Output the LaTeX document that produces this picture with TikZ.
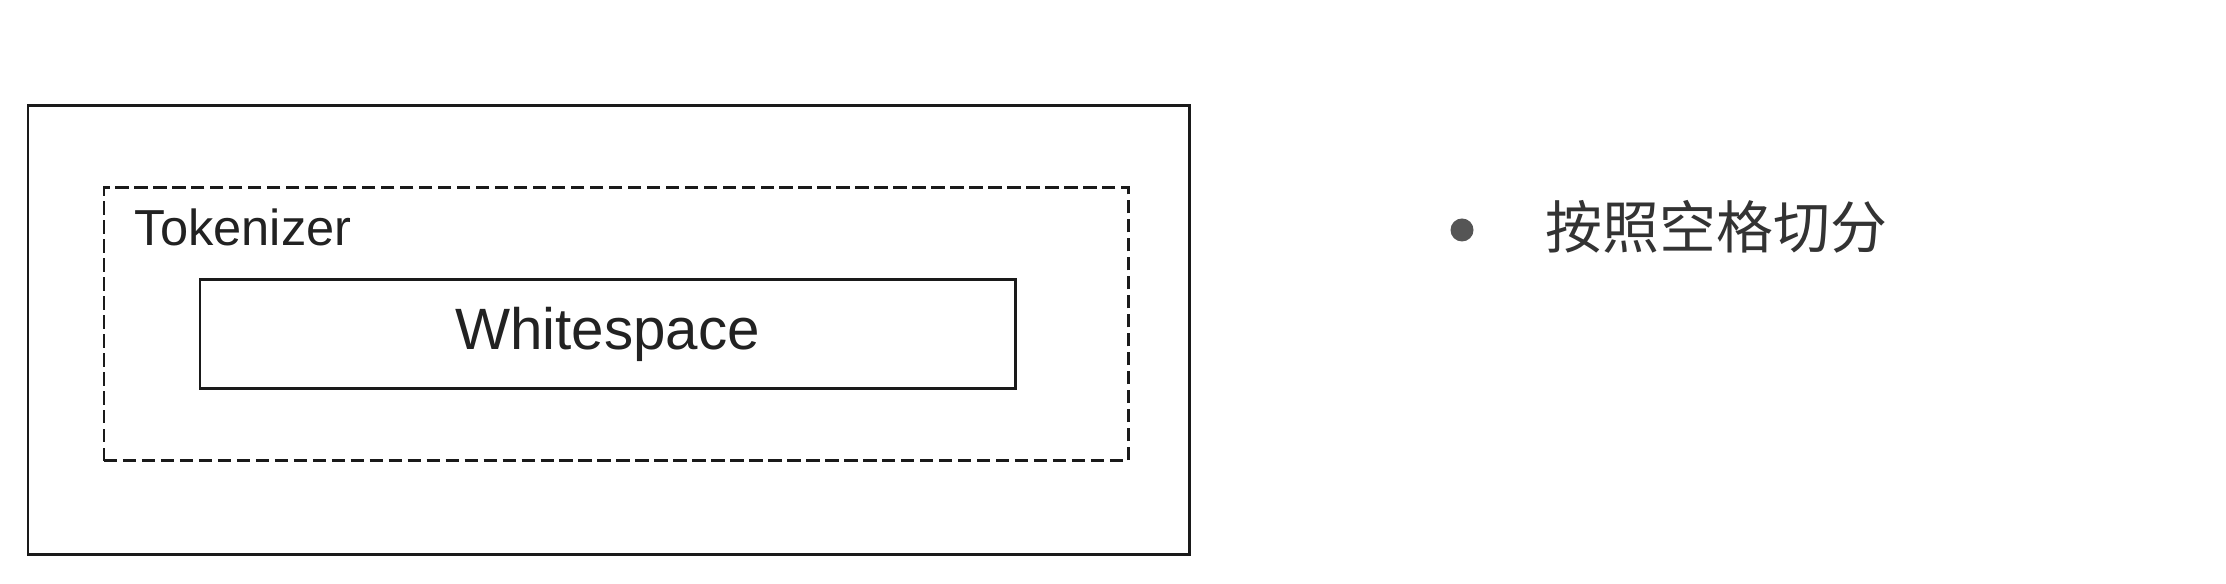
\documentclass[tikz,border=0pt]{standalone}
\usepackage{fontspec}
\setmainfont{Liberation Sans}
\newfontfamily\cjkfont{Noto Sans CJK SC}
\usetikzlibrary{positioning}
\definecolor{tokLine}{HTML}{1A1A1A}
\definecolor{tokText}{HTML}{222222}
\definecolor{tokNote}{HTML}{333333}
\definecolor{tokBullet}{HTML}{555555}
\tikzset{
  pipelineBox/.style={
    draw=tokLine,
    line width=0.85pt,
    minimum width=11.61cm,
    minimum height=4.49cm,
    inner sep=0pt
  },
  tokenizerBox/.style={
    draw=tokLine,
    line width=0.85pt,
    dash pattern=on 3.8pt off 1.6pt,
    minimum width=10.24cm,
    minimum height=2.73cm,
    inner sep=0pt
  },
  stageBox/.style={
    draw=tokLine,
    line width=0.85pt,
    minimum width=8.15cm,
    minimum height=1.09cm,
    inner sep=0pt,
    font=\fontsize{16.6}{18}\selectfont,
    text=tokText
  },
  boxLabel/.style={
    anchor=base west,
    inner sep=0pt,
    font=\fontsize{14.4}{16}\selectfont,
    text=tokText
  },
  noteText/.style={
    anchor=west,
    inner sep=0pt,
    font=\cjkfont\fontsize{16.2}{18}\selectfont,
    text=tokNote
  },
  noteBullet/.style={circle, fill=tokBullet, inner sep=0pt, minimum size=0.23cm}
}
\begin{document}
\begin{tikzpicture}[x=1cm,y=1cm]
  \useasboundingbox (0,0) rectangle (22.26,5.84);
  % nested boxes
  \node[pipelineBox] (pipeline) at (6.085,2.535) {};
  \node[tokenizerBox] (tokenizer) at (6.16,2.595) {};
  \node[boxLabel] (tokenizerLabel) at (1.34,3.38) {Tokenizer};
  \node[stageBox] (whitespace) at (6.075,2.495) {\raisebox{-0.6pt}{Whitespace}};

  % note on the right
  \node[noteBullet] (bullet) at (14.62,3.54) {};
  \node[noteText] (note) at (15.45,3.57) {按照空格切分};
\end{tikzpicture}
\end{document}
